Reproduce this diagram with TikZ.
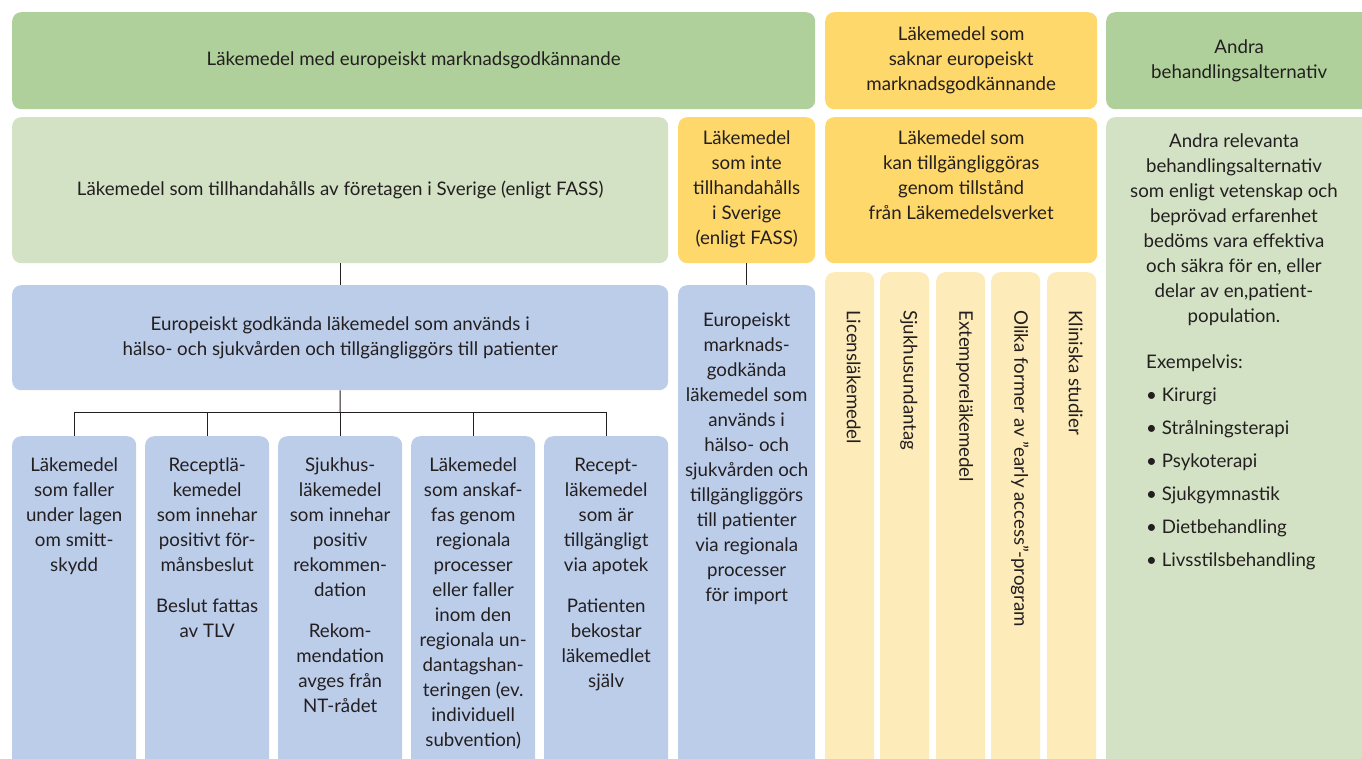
\documentclass[tikz,border=0pt]{standalone}
\usepackage{fontspec}
\setmainfont{Lato}
\usetikzlibrary{positioning,calc}
\definecolor{topgreen}{RGB}{175,208,154}
\definecolor{palegreen}{RGB}{211,226,196}
\definecolor{gold}{RGB}{254,216,106}
\definecolor{paleyellow}{RGB}{253,235,185}
\definecolor{lightblue}{RGB}{188,205,234}
\definecolor{ink}{RGB}{35,31,32}

\begin{document}
\begin{tikzpicture}[x=1pt,y=-1pt,
		box/.style={rounded corners=9pt, inner sep=0pt, align=center, anchor=north west, text=ink, font=\fontsize{18.7}{25}\selectfont},
		txt/.style={inner sep=0pt, align=center, text=ink, font=\fontsize{18.7}{25}\selectfont},
		link/.style={draw=ink, line width=1pt}]
		\useasboundingbox (0,0) rectangle (1362,758);
		\clip (0,0) rectangle (1362,758);

		% top row
		\node[box, fill=topgreen, minimum width=803, minimum height=97] (mg) at (12,12) {Läkemedel med europeiskt marknadsgodkännande};
		\node[box, fill=gold, minimum width=272, minimum height=97] (saknar) at (825,12) {Läkemedel som\\saknar europeiskt\\marknadsgodkännande};
		\node[box, fill=topgreen, minimum width=266, minimum height=97] (andra) at (1106,12) {Andra\\behandlingsalternativ};

		% second row
		\node[box, fill=palegreen, minimum width=656, minimum height=146] (lg) at (12,117) {Läkemedel som tillhandahålls av företagen i Sverige (enligt FASS)};
		\node[box, fill=gold, minimum width=137, minimum height=146] (inte) at (678,117) {};
		\node[txt, anchor=north] at ($(inte.north)+(0,14)$) {Läkemedel\\som inte\\tillhandahålls\\i Sverige\\(enligt FASS)};
		\node[box, fill=gold, minimum width=272, minimum height=146] (kan) at (825,117) {};
		\node[txt, anchor=north] at ($(kan.north)+(0,14)$) {Läkemedel som\\kan tillgängliggöras\\genom tillstånd\\från Läkemedelsverket};
		\node[box, fill=palegreen, minimum width=266, minimum height=660] (rel) at (1106,117) {};
		\node[txt, anchor=north] at (1234,134) {Andra relevanta\\behandlingsalternativ\\som enligt vetenskap och\\beprövad erfarenhet\\bedöms vara effektiva\\och säkra för en, eller\\delar av en,patient-\\population.};
		\node[txt, align=left, anchor=north west, font=\fontsize{18.7}{33}\selectfont] (ex) at (1146,355) {Exempelvis:\\\textbullet\ Kirurgi\\\textbullet\ Strålningsterapi\\\textbullet\ Psykoterapi\\\textbullet\ Sjukgymnastik\\\textbullet\ Dietbehandling\\\textbullet\ Livsstilsbehandling};

		% blue boxes
		\node[box, fill=lightblue, minimum width=656, minimum height=105] (bb) at (12,285) {Europeiskt godkända läkemedel som används i\\hälso- och sjukvården och tillgängliggörs till patienter};
		\node[box, fill=lightblue, minimum width=137, minimum height=490] (bt) at (678,285) {};
		\node[txt, anchor=north] at ($(bt.north)+(0,28)$) {Europeiskt\\marknads-\\godkända\\läkemedel som\\används i\\hälso- och\\sjukvården och\\tillgängliggörs\\till patienter\\via regionala\\processer\\för import};

		\foreach \x [count=\i] in {12,145,278,411,544}
			\node[box, fill=lightblue, minimum width=124, minimum height=340] (b\i) at (\x,436) {};

		\node[txt, anchor=north] at ($(b1.north)+(0,22)$) {Läkemedel\\som faller\\under lagen\\om smitt-\\skydd};
		\node[txt, anchor=north] at ($(b2.north)+(0,22)$) {Receptlä-\\kemedel\\som innehar\\positivt för-\\månsbeslut\\[16pt]Beslut fattas\\av TLV};
		\node[txt, anchor=north] at ($(b3.north)+(0,22)$) {Sjukhus-\\läkemedel\\som innehar\\positiv\\rekommen-\\dation\\[16pt]Rekom-\\mendation\\avges från\\NT-rådet};
		\node[txt, anchor=north] at ($(b4.north)+(0,22)$) {Läkemedel\\som anskaf-\\fas genom\\regionala\\processer\\eller faller\\inom den\\regionala un-\\dantagshan-\\teringen (ev.\\individuell\\subvention)};
		\node[txt, anchor=north] at ($(b5.north)+(0,22)$) {Recept-\\läkemedel\\som är\\tillgängligt\\via apotek\\[16pt]Patienten\\bekostar\\läkemedlet\\själv};

		% yellow strips
		\foreach \x/\t [count=\i] in {825/Licensläkemedel,880/Sjukhusundantag,936/Extemporeläkemedel,991/{Olika former av ”early access”-program},1047/Kliniska studier}{
			\node[box, fill=paleyellow, minimum width=49, minimum height=500] (s\i) at (\x,272) {};
			\node[txt, rotate=-90, anchor=west] at ($(s\i.north)+(4,38)$) {\t};
		}

		% connectors
		\draw[link] (lg.south) -- (bb.north);
		\draw[link] (inte.south) -- (bt.north);
		\coordinate (fork) at (340,412);
		\draw[link] (bb.south) -- (fork);
		\foreach \i in {1,...,5}
			\draw[link] (b\i.north) |- (fork);
	\end{tikzpicture}
\end{document}
